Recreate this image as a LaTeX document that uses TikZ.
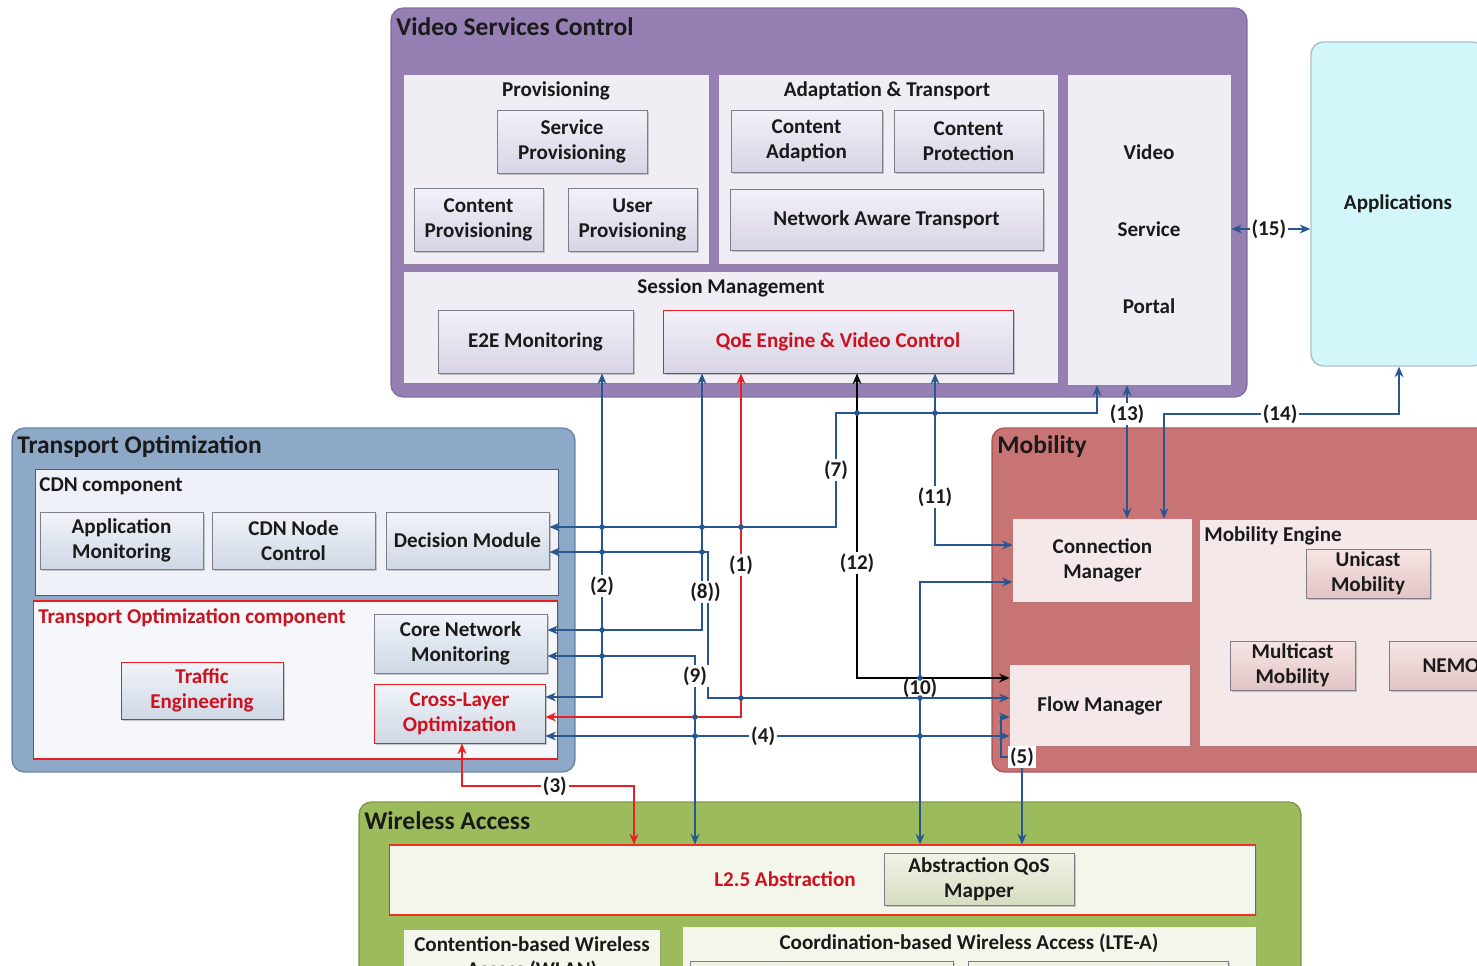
\documentclass[tikz,border=0pt]{standalone}
\usepackage{fontspec}
\setmainfont{Carlito}
\usetikzlibrary{arrows.meta,positioning,shadows}
\definecolor{VscPurple}{RGB}{150,127,178}
\definecolor{VscLine}{RGB}{132,110,162}
\definecolor{VscPanel}{RGB}{240,237,245}
\definecolor{VscTop}{RGB}{243,241,248}
\definecolor{VscBot}{RGB}{216,212,230}
\definecolor{BoxLine}{RGB}{125,125,140}
\definecolor{AppCyan}{RGB}{210,246,250}
\definecolor{AppLine}{RGB}{168,192,202}
\definecolor{TopBlue}{RGB}{142,168,200}
\definecolor{TopLine}{RGB}{105,135,172}
\definecolor{TopPanel}{RGB}{238,241,247}
\definecolor{TopTop}{RGB}{241,244,249}
\definecolor{TopBot}{RGB}{207,216,229}
\definecolor{MobRed}{RGB}{200,116,116}
\definecolor{MobLine}{RGB}{176,88,88}
\definecolor{MobPanel}{RGB}{245,232,232}
\definecolor{MobTop}{RGB}{247,229,229}
\definecolor{MobBot}{RGB}{226,196,196}
\definecolor{WaGreen}{RGB}{156,187,92}
\definecolor{WaLine}{RGB}{128,156,72}
\definecolor{WaPanel}{RGB}{245,246,235}
\definecolor{WaTop}{RGB}{241,243,230}
\definecolor{WaBot}{RGB}{214,221,194}
\definecolor{LinkBlue}{RGB}{40,86,145}
\definecolor{LinkRed}{RGB}{235,30,36}
\definecolor{AlertRed}{RGB}{204,18,30}
\definecolor{TxtDark}{RGB}{26,26,26}
\begin{document}
\begin{tikzpicture}[x=0.02cm, y=-0.02cm,
    every node/.style={font=\fontsize{12}{14.2}\selectfont\bfseries, text=TxtDark},
    hdr/.style={font=\fontsize{14.5}{17}\selectfont\bfseries, anchor=west, inner sep=0pt},
    area/.style={rectangle, rounded corners=7pt, line width=0.8pt},
    panel/.style={rectangle, inner sep=0pt,
                  drop shadow={shadow xshift=0.7pt, shadow yshift=-0.7pt, opacity=0.3}},
    vbox/.style={rectangle, draw=BoxLine, line width=0.5pt, inner sep=0.5pt, align=center,
                 top color=VscTop, bottom color=VscBot,
                 drop shadow={shadow xshift=0.9pt, shadow yshift=-0.9pt, opacity=0.4}},
    tbox/.style={vbox, top color=TopTop, bottom color=TopBot},
    rbox/.style={tbox, draw=LinkRed, text=AlertRed},
    mbox/.style={vbox, top color=MobTop, bottom color=MobBot},
    gbox/.style={vbox, top color=WaTop, bottom color=WaBot},
    lnk/.style={color=LinkBlue, line width=1.1pt,
                arrows={Stealth[length=6pt,width=5pt]-Stealth[length=6pt,width=5pt]}},
    lbl/.style={fill=white, inner sep=1pt}
  ]
    \useasboundingbox (0,0) rectangle (1477,966);
    \clip (0,0) rectangle (1477,966);

    \node[area, fill=VscPurple, draw=VscLine, minimum width=17.12cm, minimum height=7.78cm] (vsc) at (819,202.5) {};
    \node[hdr] (vscT) at (396,27) {Video Services Control};
    \node[area, fill=AppCyan, draw=AppLine, minimum width=3.48cm, minimum height=6.48cm] (apps) at (1398,204) {Applications};
    \node[area, fill=TopBlue, draw=TopLine, minimum width=11.26cm, minimum height=6.88cm] (topt) at (293.5,600) {};
    \node[hdr] (toptT) at (17,447) {Transport Optimization};
    \node[area, fill=MobRed, draw=MobLine, minimum width=10.36cm, minimum height=6.88cm] (mob) at (1251,600) {};
    \node[hdr] (mobT) at (997,447) {Mobility};
    \node[area, fill=WaGreen, draw=WaLine, minimum width=18.84cm, minimum height=4.16cm] (wacc) at (830,906) {};
    \node[hdr] (waccT) at (364,821) {Wireless Access};

    \node[panel, fill=VscPanel, minimum width=6.10cm, minimum height=3.78cm] (prov) at (556.5,169.5) {};
    \node (provT) at (556,91) {Provisioning};
    \node[vbox, minimum width=3.0cm, minimum height=1.26cm] (svcprov) at (572,141.5) {Service\\Provisioning};
    \node[vbox, minimum width=2.58cm, minimum height=1.26cm] (contprov) at (478.5,219.5) {Content\\Provisioning};
    \node[vbox, minimum width=2.58cm, minimum height=1.26cm] (userprov) at (632.5,219.5) {User\\Provisioning};

    \node[panel, fill=VscPanel, minimum width=6.78cm, minimum height=3.78cm] (adapt) at (888.5,169.5) {};
    \node (adaptT) at (887,91) {Adaptation \& Transport};
    \node[vbox, minimum width=3.02cm, minimum height=1.24cm] (contadapt) at (806.5,141) {Content\\Adaption};
    \node[vbox, minimum width=2.98cm, minimum height=1.24cm] (contprot) at (968.5,141) {Content\\Protection};
    \node[vbox, minimum width=6.26cm, minimum height=1.22cm] (nat) at (886.5,219.5) {Network Aware Transport};

    \node[panel, fill=VscPanel, minimum width=13.08cm, minimum height=2.22cm] (sess) at (731,327.5) {};
    \node (sessT) at (731,288) {Session Management};
    \node[vbox, minimum width=3.9cm, minimum height=1.26cm] (e2e) at (535.5,341.5) {E2E Monitoring};
    \node[vbox, draw=LinkRed, text=AlertRed, minimum width=7.0cm, minimum height=1.26cm] (qoe) at (838,341.5) {QoE Engine \& Video Control};

    \node[panel, fill=VscPanel, minimum width=3.26cm, minimum height=6.20cm] (portal) at (1149.5,230) {};
    \node (portalA) at (1149,152) {Video};
    \node (portalB) at (1149,229) {Service};
    \node (portalC) at (1149,306) {Portal};

    \node[panel, fill=TopPanel, draw=TopLine!70!black, line width=0.4pt, minimum width=10.46cm, minimum height=2.52cm] (cdn) at (296.5,532) {};
    \node[hdr, font=\fontsize{12}{14.2}\selectfont\bfseries] (cdnT) at (39,486) {CDN component};
    \node[tbox, minimum width=3.26cm, minimum height=1.14cm] (appmon) at (121.5,540.5) {Application\\Monitoring};
    \node[tbox, minimum width=3.26cm, minimum height=1.14cm] (cdnnode) at (293.5,540.5) {CDN Node\\Control};
    \node[tbox, minimum width=3.26cm, minimum height=1.14cm] (decmod) at (467.5,540.5) {Decision Module};

    \node[panel, fill=TopPanel!60!white, draw=LinkRed, line width=0.6pt, minimum width=10.5cm, minimum height=3.16cm] (toc) at (295.5,680) {};
    \node[hdr, font=\fontsize{12}{14.2}\selectfont\bfseries, text=AlertRed] (tocT) at (38,618) {Transport Optimization component};
    \node[tbox, minimum width=3.46cm, minimum height=1.18cm] (corenet) at (460.5,643.5) {Core Network\\Monitoring};
    \node[rbox, minimum width=3.24cm, minimum height=1.14cm] (traffic) at (202,690.5) {Traffic\\Engineering};
    \node[rbox, minimum width=3.42cm, minimum height=1.18cm] (crosslayer) at (459.5,713.5) {Cross-Layer\\Optimization};

    \node[panel, fill=MobPanel, align=center, minimum width=3.58cm, minimum height=1.66cm] (connmgr) at (1102.5,560.5) {Connection\\Manager};
    \node[panel, fill=MobPanel, minimum width=3.6cm, minimum height=1.62cm] (flowmgr) at (1100,705.5) {Flow Manager};
    \node[panel, fill=MobPanel, minimum width=6.4cm, minimum height=4.52cm] (mobeng) at (1360,633) {};
    \node[hdr, font=\fontsize{12}{14.2}\selectfont\bfseries] (mobengT) at (1204,536) {Mobility Engine};
    \node[mbox, minimum width=2.48cm, minimum height=0.98cm] (unicast) at (1368,573.5) {Unicast\\Mobility};
    \node[mbox, minimum width=2.5cm, minimum height=0.98cm] (multicast) at (1292.5,665.5) {Multicast\\Mobility};
    \node[mbox, minimum width=2.48cm, minimum height=0.98cm] (nemo) at (1451,665.5) {NEMO};

    \node[panel, fill=WaPanel, draw=LinkRed!80!orange, line width=0.6pt, minimum width=17.34cm, minimum height=1.4cm] (l25) at (822.5,880) {};
    \node[text=AlertRed] (l25T) at (785,879) {L2.5 Abstraction};
    \node[gbox, minimum width=3.8cm, minimum height=1.04cm] (qosmap) at (979,879) {Abstraction QoS\\Mapper};
    \node[panel, fill=WaPanel, minimum width=5.12cm, minimum height=1.6cm] (cwa) at (532,970) {};
    \node[align=center, inner sep=0pt] (cwaT) at (532,958.5) {Contention-based Wireless\\Access (WLAN)};
    \node[panel, fill=WaPanel, minimum width=11.46cm, minimum height=1.66cm] (lte) at (969.5,968.5) {};
    \node (lteT) at (969,943) {Coordination-based Wireless Access (LTE-A)};
    \node[gbox, minimum width=5.26cm, minimum height=0.78cm] (lteA) at (821.5,980.5) {};
    \node[gbox, minimum width=5.2cm, minimum height=0.78cm] (lteB) at (1098,980.5) {};

    \coordinate (k1) at (741,717);
    \coordinate (k2) at (602,697);
    \coordinate (k3a) at (462,786);
    \coordinate (k3b) at (634,786);
    \coordinate (k4) at (763,736);
    \coordinate (k5a) at (1022,757);
    \coordinate (k5b) at (1001,757);
    \coordinate (k5c) at (1001,717);
    \coordinate (k7a) at (836,527);
    \coordinate (k7b) at (836,413);
    \coordinate (k7c) at (1097,413);
    \coordinate (k8) at (702,630);
    \coordinate (k8b) at (708,552);
    \coordinate (k8c) at (708,698);
    \coordinate (k9) at (695,656);
    \coordinate (k10) at (920,582);
    \coordinate (k11) at (935,545);
    \coordinate (k12) at (857,678);
    \coordinate (k13) at (1127,414);
    \coordinate (k14a) at (1164,414);
    \coordinate (k14b) at (1399,414);
    \coordinate (k15) at (1270,229);

    \draw[lnk] (connmgr.west |- k10) -- (k10) -- node[lbl, pos=0.403] {(10)} (l25.north -| k10);
    \draw[lnk] (decmod.east |- k8b) -- (k8b) -- (k8c) -- (flowmgr.west |- k8c);
    \draw[lnk] (e2e.south -| k2) -- node[lbl, pos=0.657] {(2)} (k2) -- (crosslayer.east |- k2);
    \draw[lnk] (qoe.south -| k8) -- node[lbl, pos=0.852, xshift=2pt] {(8))} (k8) -- (corenet.east |- k8);
    \draw[lnk] (corenet.east |- k9) -- (k9) -- node[lbl, pos=0.106] {(9)} (l25.north -| k9);
    \draw[lnk, LinkRed] (qoe.south -| k1) -- node[lbl, pos=0.558] {(1)} (k1) -- (crosslayer.east |- k1);
    \draw[lnk, LinkRed] (crosslayer.south -| k3a) -- (k3a) -- node[lbl, pos=0.54] {(3)} (k3b) -- (l25.north -| k3b);
    \draw[lnk] (crosslayer.east |- k4) -- node[lbl, pos=0.469] {(4)} (flowmgr.west |- k4);
    \draw[lnk] (l25.north -| k5a) -- node[lbl, pos=1] {(5)} (k5a) -- (k5b) -- (k5c) -- (flowmgr.west |- k5c);
    \draw[lnk] (decmod.east |- k7a) -- (k7a) -- node[lbl, pos=0.5] {(7)} (k7b) -- (k7c) -- (portal.south -| k7c);
    \draw[lnk] (qoe.south -| k11) -- node[lbl, pos=0.72] {(11)} (k11) -- (connmgr.west |- k11);
    \draw[lnk, black] (qoe.south -| k12) -- node[lbl, pos=0.623] {(12)} (k12) -- (flowmgr.west |- k12);
    \draw[lnk] (portal.south -| k13) -- node[lbl, pos=0.216] {(13)} (connmgr.north -| k13);
    \draw[lnk] (connmgr.north -| k14a) -- (k14a) -- node[lbl, pos=0.494] {(14)} (k14b) -- (apps.south -| k14b);
    \draw[lnk] (portal.east |- k15) -- node[lbl, pos=0.475] {(15)} (apps.west |- k15);

    \foreach \pt in {(602,527),(702,527),(741,527),(602,552),(702,552),(602,630),(602,656),
                     (695,717),(695,736),(741,698),(920,698),(920,736),(920,678),(857,413),(935,413)}
      \fill[LinkBlue] \pt circle (1.6pt);
\end{tikzpicture}
\end{document}
